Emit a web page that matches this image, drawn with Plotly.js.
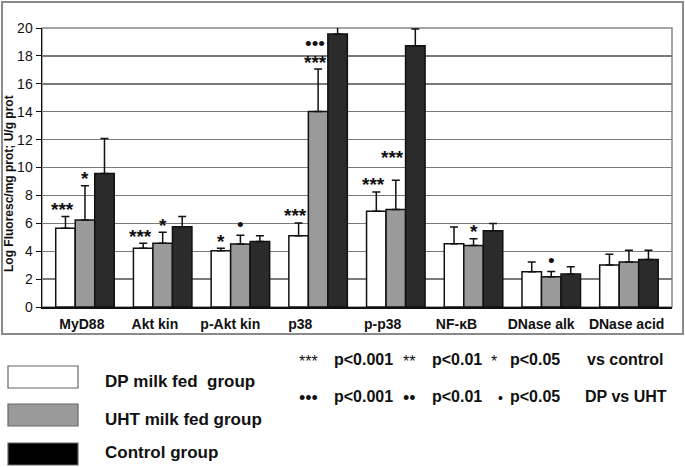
<!DOCTYPE html>
<html>
<head>
<meta charset="utf-8">
<script src="https://cdn.plot.ly/plotly-3.0.1.min.js"></script>
<style>
  html, body { margin: 0; padding: 0; background: #fff; }
  #chart { width: 685px; height: 467px; }
</style>
</head>
<body>
<div id="chart"></div>
<script>
// categories and group means
const categories = ['MyD88', 'Akt kin', 'p-Akt kin', 'p38', 'p-p38', 'NF-κB', 'DNase alk', 'DNase acid'];
const seriesNames = ['DP milk fed  group', 'UHT milk fed group', 'Control group'];

const dpMean   = [5.64, 4.21, 4.04, 5.10, 6.87, 4.53, 2.53, 3.01];
const dpSd     = [0.84, 0.36, 0.17, 0.93, 1.38, 1.20, 0.70, 0.77];
const uhtMean  = [6.24, 4.57, 4.52, 14.02, 6.99, 4.41, 2.17, 3.23];
const uhtSd    = [2.45, 0.79, 0.62, 3.04, 2.10, 0.48, 0.38, 0.84];
const ctrlMean = [9.57, 5.76, 4.69, 19.57, 18.73, 5.47, 2.36, 3.40];
const ctrlSd   = [2.50, 0.72, 0.41, 0.68, 1.20, 0.51, 0.53, 0.67];

// significance marks: vs control (stars), DP vs UHT (dots)
const dpStars  = ['***', '***', '*', '***', '***', '', '', ''];
const uhtStars = ['*', '*', '', '***', '***', '*', '', ''];
const uhtDots  = ['', '', '•', '•••', '', '', '•', ''];

const yTicks = [0, 2, 4, 6, 8, 10, 12, 14, 16, 18, 20];

// label placement (the source figure has its labels off-centre)
const labelShift = [-0.04, -0.10, -0.13, -0.23, -0.17, -0.22, -0.13, -0.03];

const FONT = 'Arial, "Liberation Sans", sans-serif';
const colors = ['#ffffff', '#9a9a9a', '#2b2b2b'];
const bargap = 0.247;
const barW = (1 - bargap) / 3;

const xs = categories.map((c, i) => i);
const means = [dpMean, uhtMean, ctrlMean];
const sds = [dpSd, uhtSd, ctrlSd];

const traces = means.map((m, s) => ({
  type: 'bar',
  x: xs,
  y: m,
  name: seriesNames[s],
  marker: { color: colors[s], line: { color: '#111', width: 1.5 } },
  error_y: {
    type: 'data', symmetric: false,
    array: sds[s], arrayminus: m.map(() => 0),
    color: '#111', thickness: 1.5, width: 4
  },
  cliponaxis: false,
  showlegend: false,
  hoverinfo: 'skip'
}));

// plot area in pixels, used to place the free-standing text
const L = 42, R = 672, T = 28, B = 307;
const px = v => (v - L) / (R - L);
const py = v => (B - v) / (B - T);

const annotations = [];

function mark(text, i, s, lift, dots) {
  const top = means[s][i] + sds[s][i];
  annotations.push({
    text: dots ? text : '<b>' + text + '</b>', x: i + (s - 1) * barW, y: top, xref: 'x', yref: 'y',
    xanchor: 'center', yanchor: 'middle', showarrow: false,
    xshift: text.length > 1 ? -3 : 0, yshift: lift,
    font: { family: FONT, size: dots ? 19 : 19, color: '#111' }
  });
}
const extraLift = { 'p-p38': 16 };
categories.forEach((c, i) => {
  if (dpStars[i]) mark(dpStars[i], i, 0, 7, false);
  if (uhtStars[i]) mark(uhtStars[i], i, 1, 7 + (extraLift[c] || 0), false);
  if (uhtDots[i]) mark(uhtDots[i], i, 1, uhtStars[i] ? 26 : 11, true);
});

// y axis title
annotations.push({
  text: '<b>Log Fluoresc/mg prot; U/g prot</b>', textangle: -90,
  xref: 'paper', yref: 'paper', x: px(9), y: py(184),
  xanchor: 'center', yanchor: 'middle', showarrow: false,
  font: { family: FONT, size: 12, color: '#111' }
});

// legend (drawn by hand: wide swatches)
const legendBoxY = [377, 415, 454];
const legendTextY = [381, 419, 452];
const legendFill = ['#ffffff', '#9a9a9a', '#000000'];
const shapes = [
  { type: 'rect', xref: 'paper', yref: 'paper', x0: 0, x1: 1, y0: 0, y1: 1,
    line: { color: '#888', width: 1.5 }, layer: 'below' },
  { type: 'rect', xref: 'paper', yref: 'paper', x0: px(2), x1: px(683), y0: py(334), y1: py(2),
    line: { color: '#8a8a8a', width: 2 } }
];
seriesNames.forEach((n, s) => {
  shapes.push({
    type: 'rect', xref: 'paper', yref: 'paper',
    x0: px(8), x1: px(78), y0: py(legendBoxY[s] + 11), y1: py(legendBoxY[s] - 11),
    fillcolor: legendFill[s], line: { color: '#666', width: 1.2 }
  });
  annotations.push({
    text: '<b>' + n.replace(/ /g, '&nbsp;') + '</b>', xref: 'paper', yref: 'paper',
    x: px(103), y: py(legendTextY[s]), xanchor: 'left', yanchor: 'middle', showarrow: false,
    font: { family: FONT, size: 17, color: '#111' }
  });
});

// footnote key
const keyRows = [
  { y: 359, items: [['***', 308, 16], ['p<0.001', 363], ['**', 409, 16], ['p<0.01', 457], ['*', 494, 16], ['p<0.05', 535], ['vs control', 625]] },
  { y: 396, items: [['•••', 308, 18], ['p<0.001', 363], ['••', 409, 18], ['p<0.01', 457], ['•', 500, 14], ['p<0.05', 535], ['DP vs UHT', 626]] }
];
keyRows.forEach(r => r.items.forEach(it => {
  const sym = it.length > 2;
  annotations.push({
    text: sym ? it[0] : '<b>' + it[0] + '</b>', xref: 'paper', yref: 'paper',
    x: px(it[1]), y: py(r.y + (sym ? 2 : 0)), xanchor: 'center', yanchor: 'middle', showarrow: false,
    font: { family: FONT, size: sym ? it[2] : 16, color: '#111' }
  });
}));

const layout = {
  width: 685, height: 467,
  margin: { l: L, r: 685 - R, t: T, b: 467 - B },
  paper_bgcolor: '#fff', plot_bgcolor: '#fff',
  font: { family: FONT, color: '#111' },
  barmode: 'group', bargap: bargap, bargroupgap: 0,
  xaxis: {
    range: [-0.553, 7.554], showgrid: false, zeroline: false,
    tickvals: xs.map(i => i + labelShift[i]),
    ticktext: categories.map(c => '<b>' + c + '</b>'),
    tickfont: { family: FONT, size: 14, color: '#111' },
    ticks: '', ticklabelstandoff: 4,
    showline: true, linecolor: '#111', linewidth: 1.5
  },
  yaxis: {
    range: [0, 20], tickvals: yTicks, showgrid: true,
    gridcolor: '#7a7a7a', gridwidth: 1.4, zeroline: false,
    ticks: 'outside', ticklen: 5, tickcolor: '#111',
    tickfont: { family: FONT, size: 14, color: '#111' },
    showline: true, linecolor: '#111', linewidth: 1.5
  },
  shapes: shapes,
  annotations: annotations,
  showlegend: false
};

Plotly.newPlot('chart', traces, layout, { staticPlot: true });
</script>
</body>
</html>
